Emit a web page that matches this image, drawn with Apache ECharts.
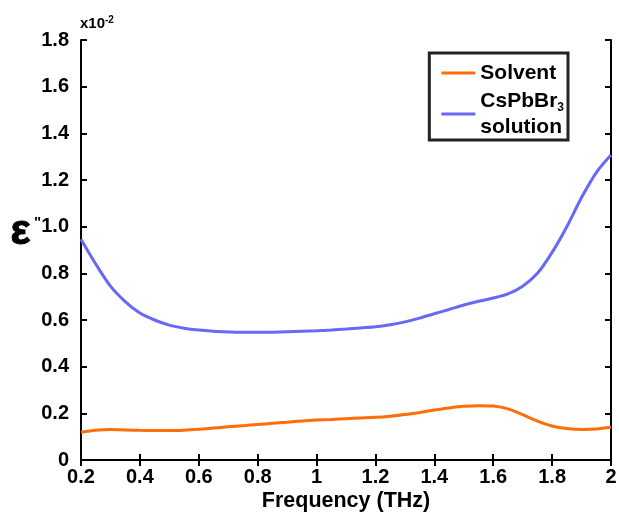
<!DOCTYPE html>
<html><head><meta charset="utf-8">
<script src="https://cdn.jsdelivr.net/npm/echarts@6/dist/echarts.min.js"></script>
<style>html,body{margin:0;padding:0;background:#fff}#c{width:619px;height:515px}</style>
</head><body><div id="c"></div>
<script>
const freq = [0.2,0.25,0.3,0.35,0.4,0.45,0.5,0.55,0.6,0.65,0.7,0.75,0.8,0.85,0.9,0.95,1.0,1.05,1.1,1.15,1.2,1.25,1.3,1.35,1.4,1.45,1.5,1.55,1.6,1.65,1.7,1.75,1.8,1.85,1.9,1.95,2.0];
const solution = [0.946,0.84,0.745,0.679,0.63,0.60,0.578,0.565,0.557,0.552,0.549,0.547,0.547,0.548,0.55,0.552,0.554,0.557,0.561,0.566,0.571,0.58,0.592,0.608,0.627,0.645,0.664,0.68,0.694,0.712,0.745,0.80,0.89,1.0,1.125,1.232,1.307];
const solvent = [0.119,0.128,0.131,0.129,0.127,0.126,0.126,0.128,0.132,0.137,0.142,0.147,0.152,0.157,0.162,0.167,0.171,0.174,0.177,0.18,0.183,0.188,0.195,0.204,0.214,0.223,0.23,0.233,0.231,0.219,0.194,0.167,0.146,0.135,0.131,0.133,0.14];
const seriesNames = ['Solvent','CsPbBr3 solution'];
const colors = ['#FF6E0A','#6868F8'];

const font = 'Liberation Sans, Arial, sans-serif';
const chart = echarts.init(document.getElementById('c'));
const frameAxis = {axisLine:{show:true,lineStyle:{color:'#000',width:2}},axisTick:{show:true,inside:true,length:6,lineStyle:{color:'#000',width:2}},splitLine:{show:false}};
chart.setOption({
  animation:false,
  grid:{left:81,right:8,top:40,bottom:55,containLabel:false,outerBoundsMode:'none'},
  xAxis:[
    Object.assign({type:'value',min:0.2,max:2,interval:0.2,position:'bottom',
      axisLabel:{color:'#000',fontWeight:'bold',fontSize:20,fontFamily:font,margin:7,
        formatter:v=>String(Math.round(v*10)/10)},
      name:'Frequency (THz)',nameLocation:'middle',nameGap:30,nameMoveOverlap:false,
      nameTextStyle:{color:'#000',fontWeight:'bold',fontSize:21.5,fontFamily:font}},frameAxis),
    Object.assign({type:'value',min:0.2,max:2,interval:0.2,position:'top',axisLabel:{show:false}},frameAxis)
  ],
  yAxis:[
    Object.assign({type:'value',min:0,max:1.8,interval:0.2,position:'left',
      axisLabel:{color:'#000',fontWeight:'bold',fontSize:20,fontFamily:font,margin:12,
        formatter:v=>v===0?'0':v.toFixed(1)}},frameAxis),
    Object.assign({type:'value',min:0,max:1.8,interval:0.2,position:'right',axisLabel:{show:false}},frameAxis)
  ],
  legend:{
    right:51,top:53,orient:'vertical',
    backgroundColor:'#fff',borderColor:'#222',borderWidth:3,borderRadius:0,
    padding:[7,4,0,12],itemGap:2,itemWidth:34,itemHeight:3,
    icon:'rect',
    data:seriesNames,
    formatter:function(n){
      if(n==='Solvent') return '{a|Solvent}';
      return '{a|CsPbBr}{s|3}\n{a|solution}';
    },
    textStyle:{color:'#000',fontFamily:font,lineHeight:26,rich:{
      a:{fontSize:21,fontWeight:'bold',fontFamily:font,color:'#000',lineHeight:26},
      s:{fontSize:12,fontWeight:'bold',fontFamily:font,color:'#000',verticalAlign:'bottom',padding:[9,0,0,0],lineHeight:26}
    }}
  },
  graphic:[
    {type:'text',left:80,top:15,style:{rich:{a:{fontSize:15,fontWeight:'bold',fontFamily:font,fill:'#000'},s:{fontSize:10,fontWeight:'bold',fontFamily:font,fill:'#000',verticalAlign:'top',padding:[0,0,8,0]}},text:'{a|x10}{s|-2}'}},
    {type:'text',left:10,top:211,style:{text:'ε',fontSize:42,fontWeight:'bold',fontFamily:font,fill:'#000',stroke:'#000',lineWidth:1}},
    {type:'text',left:34,top:215,style:{text:'"',fontSize:15,fontWeight:'bold',fontFamily:font,fill:'#000'}}
  ],
  series:[
    {name:seriesNames[0],type:'line',smooth:0.3,showSymbol:false,symbol:'none',color:colors[0],
      lineStyle:{width:3,color:colors[0]},data:freq.map((f,i)=>[f,solvent[i]])},
    {name:seriesNames[1],type:'line',smooth:0.3,showSymbol:false,symbol:'none',color:colors[1],
      lineStyle:{width:3,color:colors[1]},data:freq.map((f,i)=>[f,solution[i]])}
  ]
});
</script></body></html>
